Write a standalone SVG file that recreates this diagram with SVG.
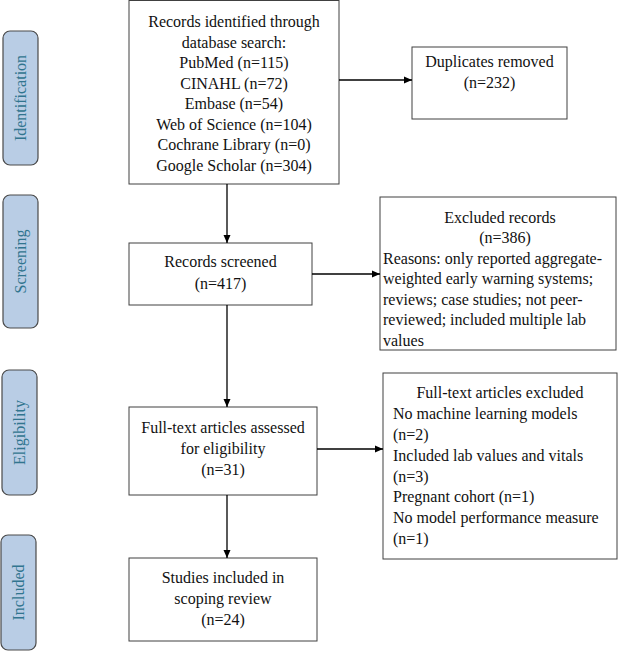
<svg xmlns="http://www.w3.org/2000/svg" width="620" height="652" viewBox="0 0 620 652">
<style>
.box{fill:#fff;stroke:#404040;stroke-width:1}
.side{fill:#b9cde5;stroke:#4a4a4a;stroke-width:1.2}
.t{font-family:"Liberation Serif","Times New Roman",serif;font-size:16px;fill:#111}
.c{text-anchor:middle}
.st{font-family:"Liberation Serif","Times New Roman",serif;font-size:16px;fill:#31758f;text-anchor:middle}
.ln{stroke:#000;stroke-width:1.3;fill:none}
</style>
<defs>
<marker id="ah" markerWidth="8" markerHeight="8" refX="8" refY="4" orient="auto" markerUnits="userSpaceOnUse">
<path d="M0,0.5 L8,4 L0,7.5 Z" fill="#000"/>
</marker>
</defs>
<rect width="620" height="652" fill="#fff"/>
<g id="stage-identification">
<rect class="side" x="3" y="31" width="35" height="134" rx="7"/>
<text class="st" transform="translate(26,98) rotate(-90)">Identification</text>
</g>
<g id="stage-screening">
<rect class="side" x="3" y="195" width="35" height="133" rx="7"/>
<text class="st" transform="translate(26,261.5) rotate(-90)">Screening</text>
</g>
<g id="stage-eligibility">
<rect class="side" x="2" y="370" width="35" height="125" rx="7"/>
<text class="st" transform="translate(25,432.5) rotate(-90)">Eligibility</text>
</g>
<g id="stage-included">
<rect class="side" x="1" y="535" width="35" height="115" rx="7"/>
<text class="st" transform="translate(24,592.5) rotate(-90)">Included</text>
</g>
<g id="identified">
<rect class="box" x="129" y="0.5" width="210" height="183.5"/>
<text class="t c" x="234" y="27">Records identified through</text>
<text class="t c" x="234" y="47.5">database search:</text>
<text class="t c" x="234" y="68">PubMed (n=115)</text>
<text class="t c" x="234" y="88.5">CINAHL (n=72)</text>
<text class="t c" x="234" y="109">Embase (n=54)</text>
<text class="t c" x="234" y="129.5">Web of Science (n=104)</text>
<text class="t c" x="234" y="150">Cochrane Library (n=0)</text>
<text class="t c" x="234" y="170.5">Google Scholar (n=304)</text>
</g>
<g id="duplicates">
<rect class="box" x="412" y="47" width="155" height="72"/>
<text class="t c" x="489.5" y="67">Duplicates removed</text>
<text class="t c" x="489.5" y="88">(n=232)</text>
</g>
<g id="screened">
<rect class="box" x="129" y="243" width="183" height="62"/>
<text class="t c" x="220.5" y="267">Records screened</text>
<text class="t c" x="220.5" y="288.5">(n=417)</text>
</g>
<g id="excluded">
<rect class="box" x="380" y="197" width="236" height="153"/>
<text class="t c" x="500" y="222.5">Excluded records</text>
<text class="t c" x="505" y="243">(n=386)</text>
<text class="t" x="383" y="263.5">Reasons: only reported aggregate-</text>
<text class="t" x="383" y="284">weighted early warning systems;</text>
<text class="t" x="383" y="304.5">reviews; case studies; not peer-</text>
<text class="t" x="383" y="325">reviewed; included multiple lab</text>
<text class="t" x="383" y="345.5">values</text>
</g>
<g id="fulltext">
<rect class="box" x="129" y="407" width="188" height="88"/>
<text class="t c" x="223" y="433">Full-text articles assessed</text>
<text class="t c" x="223" y="454">for eligibility</text>
<text class="t c" x="223" y="475">(n=31)</text>
</g>
<g id="fulltext-excluded">
<rect class="box" x="383" y="373" width="234" height="186"/>
<text class="t c" x="500" y="398">Full-text articles excluded</text>
<text class="t" x="393" y="419">No machine learning models</text>
<text class="t" x="393" y="440">(n=2)</text>
<text class="t" x="393" y="461">Included lab values and vitals</text>
<text class="t" x="393" y="481.5">(n=3)</text>
<text class="t" x="393" y="502">Pregnant cohort (n=1)</text>
<text class="t" x="393" y="523">No model performance measure</text>
<text class="t" x="393" y="544">(n=1)</text>
</g>
<g id="included">
<rect class="box" x="129" y="558" width="188" height="83"/>
<text class="t c" x="223" y="583">Studies included in</text>
<text class="t c" x="223" y="604">scoping review</text>
<text class="t c" x="223" y="625">(n=24)</text>
</g>
<g id="connectors">
<line class="ln" x1="339" y1="80" x2="412" y2="80" marker-end="url(#ah)"/>
<line class="ln" x1="227" y1="184" x2="227" y2="243" marker-end="url(#ah)"/>
<line class="ln" x1="312" y1="274" x2="380" y2="274" marker-end="url(#ah)"/>
<line class="ln" x1="227" y1="305" x2="227" y2="407" marker-end="url(#ah)"/>
<line class="ln" x1="317" y1="449" x2="383" y2="449" marker-end="url(#ah)"/>
<line class="ln" x1="227" y1="495" x2="227" y2="558" marker-end="url(#ah)"/>
</g>
</svg>
